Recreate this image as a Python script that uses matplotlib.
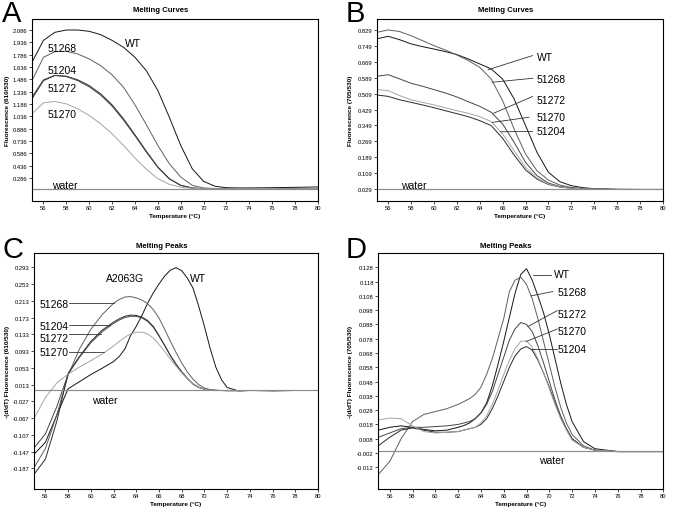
import numpy as np
import matplotlib
matplotlib.use("Agg")
import matplotlib.pyplot as plt

plt.rcParams['font.family'] = ['Liberation Sans', 'DejaVu Sans']

# === Data ===
samples = ["WT", "51268", "51204", "51272", "51270", "water"]

# melting curves (A, B) on a 1 degree grid
temp_curve = [55, 56, 57, 58, 59, 60, 61, 62, 63, 64, 65, 66, 67, 68, 69, 70,
              71, 72, 73, 74, 76, 78, 80]

a_wt = [1.694, 1.96, 2.058, 2.086, 2.086, 2.07, 2.03, 1.96, 1.876, 1.754, 1.59, 1.35,
        1.026, 0.682, 0.40, 0.245, 0.185, 0.168, 0.165, 0.165, 0.168, 0.172, 0.177]
a_51268 = [1.471, 1.754, 1.823, 1.827, 1.795, 1.734, 1.653, 1.54, 1.39, 1.176, 0.933,
           0.682, 0.46, 0.298, 0.197, 0.165, 0.157, 0.155, 0.155, 0.155, 0.156, 0.157, 0.158]
a_51204 = [1.249, 1.47, 1.532, 1.524, 1.48, 1.41, 1.31, 1.176, 1.006, 0.812, 0.61,
           0.42, 0.278, 0.197, 0.165, 0.156, 0.154, 0.155, 0.155, 0.155, 0.156, 0.156, 0.157]
a_51272 = [1.27, 1.48, 1.535, 1.52, 1.47, 1.395, 1.295, 1.16, 0.99, 0.80, 0.60,
           0.415, 0.275, 0.195, 0.164, 0.156, 0.154, 0.154, 0.155, 0.155, 0.156, 0.156, 0.157]
a_51270 = [1.067, 1.2, 1.216, 1.188, 1.127, 1.046, 0.945, 0.824, 0.682, 0.529, 0.391,
           0.278, 0.209, 0.173, 0.16, 0.156, 0.155, 0.155, 0.155, 0.155, 0.156, 0.156, 0.157]
a_water = [0.148] * 23

b_wt = [0.784, 0.797, 0.78, 0.759, 0.745, 0.733, 0.72, 0.705, 0.683, 0.658, 0.633, 0.582,
        0.482, 0.348, 0.213, 0.113, 0.066, 0.046, 0.036, 0.031, 0.028, 0.027, 0.027]
b_51268 = [0.817, 0.829, 0.821, 0.80, 0.775, 0.75, 0.728, 0.703, 0.675, 0.641, 0.582, 0.473,
           0.331, 0.205, 0.121, 0.074, 0.049, 0.037, 0.031, 0.029, 0.027, 0.027, 0.027]
b_51204 = [0.502, 0.495, 0.478, 0.465, 0.452, 0.438, 0.423, 0.408, 0.393, 0.373, 0.348, 0.284,
           0.20, 0.125, 0.079, 0.052, 0.039, 0.033, 0.030, 0.028, 0.027, 0.027, 0.027]
b_51272 = [0.596, 0.604, 0.583, 0.561, 0.546, 0.529, 0.512, 0.492, 0.468, 0.445, 0.415, 0.356,
           0.264, 0.163, 0.096, 0.059, 0.042, 0.035, 0.031, 0.029, 0.027, 0.027, 0.027]
b_51270 = [0.529, 0.524, 0.499, 0.478, 0.465, 0.452, 0.438, 0.423, 0.41, 0.393, 0.368, 0.306,
           0.222, 0.138, 0.084, 0.054, 0.040, 0.033, 0.030, 0.029, 0.027, 0.027, 0.027]
b_water = [0.029] * 23

# melting peaks (C, D), finer grid around the peaks
temp_peak = [55, 56, 57, 58, 59, 60, 61, 62, 62.5, 63, 63.5, 64, 64.5, 65, 65.5, 66, 66.5,
             67, 67.5, 68, 68.5, 69, 69.5, 70, 70.5, 71, 71.5, 72, 73, 74, 76, 78, 80]

c_wt = [-0.153, -0.125, -0.06, 0.003, 0.02, 0.037, 0.052, 0.068, 0.08, 0.098, 0.13, 0.152,
        0.178, 0.207, 0.232, 0.253, 0.272, 0.286, 0.292, 0.285, 0.267, 0.243, 0.20, 0.152,
        0.10, 0.055, 0.025, 0.006, -0.002, -0.001, -0.002, -0.001, -0.001]
c_51268 = [-0.185, -0.14, -0.06, 0.035, 0.098, 0.145, 0.18, 0.207, 0.216, 0.222, 0.223, 0.22,
           0.215, 0.206, 0.192, 0.172, 0.145, 0.117, 0.09, 0.065, 0.043, 0.026, 0.013, 0.005,
           0.001, 0.0, -0.001, -0.002, -0.002, -0.001, -0.001, -0.001, -0.001]
c_51204 = [-0.201, -0.165, -0.075, 0.04, 0.08, 0.116, 0.143, 0.162, 0.17, 0.176, 0.179, 0.178,
           0.174, 0.166, 0.152, 0.13, 0.107, 0.083, 0.062, 0.044, 0.028, 0.015, 0.007, 0.002,
           0.0, -0.001, -0.001, -0.001, -0.001, -0.001, -0.001, -0.001, -0.001]
c_51272 = [-0.138, -0.105, -0.04, 0.038, 0.078, 0.113, 0.139, 0.159, 0.167, 0.173, 0.176, 0.176,
           0.172, 0.164, 0.15, 0.129, 0.106, 0.082, 0.061, 0.043, 0.027, 0.014, 0.006, 0.002,
           0.0, -0.001, -0.001, -0.001, -0.001, -0.001, -0.001, -0.001, -0.001]
c_51270 = [-0.068, -0.018, 0.017, 0.038, 0.055, 0.07, 0.086, 0.105, 0.116, 0.126, 0.134, 0.138,
           0.138, 0.134, 0.124, 0.109, 0.092, 0.074, 0.057, 0.041, 0.027, 0.015, 0.007, 0.002,
           0.0, -0.001, -0.001, -0.001, -0.001, -0.001, -0.001, -0.001, -0.001]
c_water = [-0.001] * 33

d_wt = [0.014, 0.016, 0.017, 0.016, 0.0145, 0.0135, 0.014, 0.016, 0.0172, 0.019, 0.022, 0.026,
        0.033, 0.045, 0.06, 0.076, 0.093, 0.11, 0.123, 0.127, 0.119, 0.108, 0.096, 0.081,
        0.064, 0.047, 0.032, 0.02, 0.006, 0.001, -0.001, -0.001, -0.001]
d_51268 = [-0.017, -0.008, 0.008, 0.02, 0.025, 0.027, 0.029, 0.032, 0.034, 0.036, 0.039, 0.044,
           0.053, 0.064, 0.078, 0.092, 0.111, 0.119, 0.121, 0.116, 0.106, 0.092, 0.076, 0.06,
           0.044, 0.03, 0.019, 0.011, 0.003, 0.0, -0.001, -0.001, -0.001]
d_51204 = [0.003, 0.009, 0.014, 0.0155, 0.014, 0.0125, 0.0125, 0.013, 0.014, 0.015, 0.016, 0.018,
           0.022, 0.029, 0.038, 0.048, 0.058, 0.066, 0.0708, 0.0725, 0.07, 0.063, 0.054, 0.044,
           0.033, 0.023, 0.015, 0.008, 0.002, 0.0, -0.001, -0.001, -0.001]
d_51272 = [0.009, 0.012, 0.015, 0.016, 0.016, 0.0165, 0.017, 0.018, 0.019, 0.02, 0.022, 0.026,
           0.032, 0.041, 0.053, 0.065, 0.077, 0.085, 0.0893, 0.088, 0.083, 0.073, 0.061, 0.048,
           0.035, 0.024, 0.015, 0.008, 0.002, 0.0, -0.001, -0.001, -0.001]
d_51270 = [0.021, 0.0225, 0.022, 0.017, 0.013, 0.012, 0.0125, 0.013, 0.014, 0.015, 0.016, 0.019,
           0.024, 0.032, 0.042, 0.053, 0.063, 0.071, 0.0762, 0.0765, 0.072, 0.064, 0.054, 0.043,
           0.032, 0.022, 0.014, 0.007, 0.002, 0.0, -0.001, -0.001, -0.001]
d_water = [-0.0005] * 33

# tick labels
x_ticks = [56, 58, 60, 62, 64, 66, 68, 70, 72, 74, 76, 78, 80]
a_yticks = [0.286, 0.436, 0.586, 0.736, 0.886, 1.036, 1.186, 1.336, 1.486, 1.636, 1.786, 1.936, 2.086]
b_yticks = [0.029, 0.109, 0.189, 0.269, 0.349, 0.429, 0.509, 0.589, 0.669, 0.749, 0.829]
c_yticks = [-0.187, -0.147, -0.107, -0.067, -0.027, 0.013, 0.053, 0.093, 0.133, 0.173, 0.213, 0.253, 0.293]
d_yticks = [-0.012, -0.002, 0.008, 0.018, 0.028, 0.038, 0.048, 0.058, 0.068, 0.078, 0.088, 0.098,
            0.108, 0.118, 0.128]

colors = {"WT": "#151515", "51268": "#5f5f5f", "51204": "#2a2a2a",
          "51272": "#454545", "51270": "#a5a5a5", "water": "#8c8c8c"}

W, H = 675, 510
fig = plt.figure(figsize=(W / 100, H / 100), dpi=100)


def px_axes(left, top, right, bottom):
    return fig.add_axes([left / W, 1 - bottom / H, (right - left) / W, (bottom - top) / H])


def style(ax, yticks, ylim, ylabel, ylab_x):
    ax.set_xlim(55, 80)
    ax.set_ylim(*ylim)
    ax.set_xticks(x_ticks)
    ax.set_xticklabels([str(t) for t in x_ticks])
    ax.set_yticks(yticks)
    ax.set_yticklabels(["%.3f" % v for v in yticks])
    ax.tick_params(labelsize=4.2, length=2, width=0.5, pad=1.2, direction="out")
    for s in ax.spines.values():
        s.set_linewidth(0.8)
    ax.set_xlabel("Temperature (\u00b0C)", fontsize=4.6, fontweight="bold", labelpad=1.5)
    ax.set_ylabel(ylabel, fontsize=4.6, fontweight="bold")
    ax.yaxis.set_label_coords(ylab_x, 0.5)


def draw(ax, t, series):
    for name, vals in zip(samples, series):
        lw = 0.7 if name != "water" else 0.85
        ax.plot(t, vals, color=colors[name], lw=lw)


lab = dict(fontsize=7.5, color="black")
line_kw = dict(color="#333333", lw=0.6)

# === A ===
axA = px_axes(32, 20, 318, 202)
draw(axA, temp_curve, [a_wt, a_51268, a_51204, a_51272, a_51270, a_water])
style(axA, a_yticks, (0.006, 2.22), "Fluorescence (610/530)", -0.077)
axA.text(63.1, 1.924, "WT", va="center", **lab)
axA.text(56.4, 1.868, "51268", va="center", **lab)
axA.text(56.4, 1.601, "51204", va="center", **lab)
axA.text(56.4, 1.386, "51272", va="center", **lab)
axA.text(56.4, 1.067, "51270", va="center", **lab)
axA.text(56.75, 0.205, "water", va="center", **lab)

# === B ===
axB = px_axes(376.7, 20, 663, 202)
draw(axB, temp_curve, [b_wt, b_51268, b_51204, b_51272, b_51270, b_water])
style(axB, b_yticks, (-0.031, 0.884), "Fluorescence (705/530)", -0.083)
b_labels = [("WT", 0.695, (64.73, 0.629), (68.6, 0.700)),
            ("51268", 0.582, (65.08, 0.566), (68.63, 0.586)),
            ("51272", 0.477, (65.2, 0.41), (68.6, 0.494)),
            ("51270", 0.390, (65.08, 0.364), (68.3, 0.390)),
            ("51204", 0.319, (65.8, 0.317), (68.6, 0.319))]
for name, ty, p0, p1 in b_labels:
    axB.plot([p0[0], p1[0]], [p0[1], p1[1]], **line_kw)
    axB.text(69.0, ty, name, va="center", **lab)
axB.text(57.1, 0.051, "water", va="center", **lab)

# === C ===
axC = px_axes(34, 254, 318, 490)
draw(axC, temp_peak, [c_wt, c_51268, c_51204, c_51272, c_51270, c_water])
style(axC, c_yticks, (-0.236, 0.327), "-(d/dT) Fluorescence (610/530)", -0.085)
axC.text(63.0, 0.267, "A2063G", ha="center", va="center", **lab)
axC.text(68.7, 0.267, "WT", va="center", **lab)
c_labels = [("51268", 0.205, 0.207, 62.0),
            ("51204", 0.154, 0.155, 61.7),
            ("51272", 0.124, 0.134, 60.9),
            ("51270", 0.090, 0.090, 61.2)]
for name, ty, ly, lx in c_labels:
    axC.plot([58.1, lx], [ly, ly], **line_kw)
    axC.text(55.5, ty, name, va="center", **lab)
axC.text(61.2, -0.023, "water", ha="center", va="center", **lab)

# === D ===
axD = px_axes(378.3, 254, 663.3, 490)
draw(axD, temp_peak, [d_wt, d_51268, d_51204, d_51272, d_51270, d_water])
style(axD, d_yticks, (-0.0272, 0.138), "-(d/dT) Fluorescence (705/530)", -0.089)
d_labels = [("WT", 0.1233, (68.56, 0.1228), (70.17, 0.1228)),
            ("51268", 0.111, (68.41, 0.108), (70.3, 0.111)),
            ("51272", 0.0953, (68.12, 0.0865), (70.7, 0.0977)),
            ("51270", 0.0832, (67.97, 0.0760), (70.7, 0.0848)),
            ("51204", 0.0708, (68.41, 0.0708), (70.7, 0.0708))]
for name, ty, p0, p1 in d_labels:
    axD.plot([p0[0], p1[0]], [p0[1], p1[1]], **line_kw)
    axD.text(70.4 if name == "WT" else 70.76, ty, name, va="center", **lab)
axD.text(70.2, -0.0066, "water", ha="center", va="center", **lab)

# === titles and panel letters ===
for x, y, t in [(161, 11, "Melting Curves"), (506, 11, "Melting Curves"),
                (162, 246, "Melting Peaks"), (506, 246, "Melting Peaks")]:
    fig.text(x / W, 1 - y / H, t, ha="center", va="center", fontsize=5.6, fontweight="bold")
for x, y, t in [(2, 14, "A"), (346, 14, "B"), (2, 250, "C"), (346, 250, "D")]:
    fig.text(x / W, 1 - y / H, t, ha="left", va="center", fontsize=21)

fig.savefig("out.png", dpi=100)
